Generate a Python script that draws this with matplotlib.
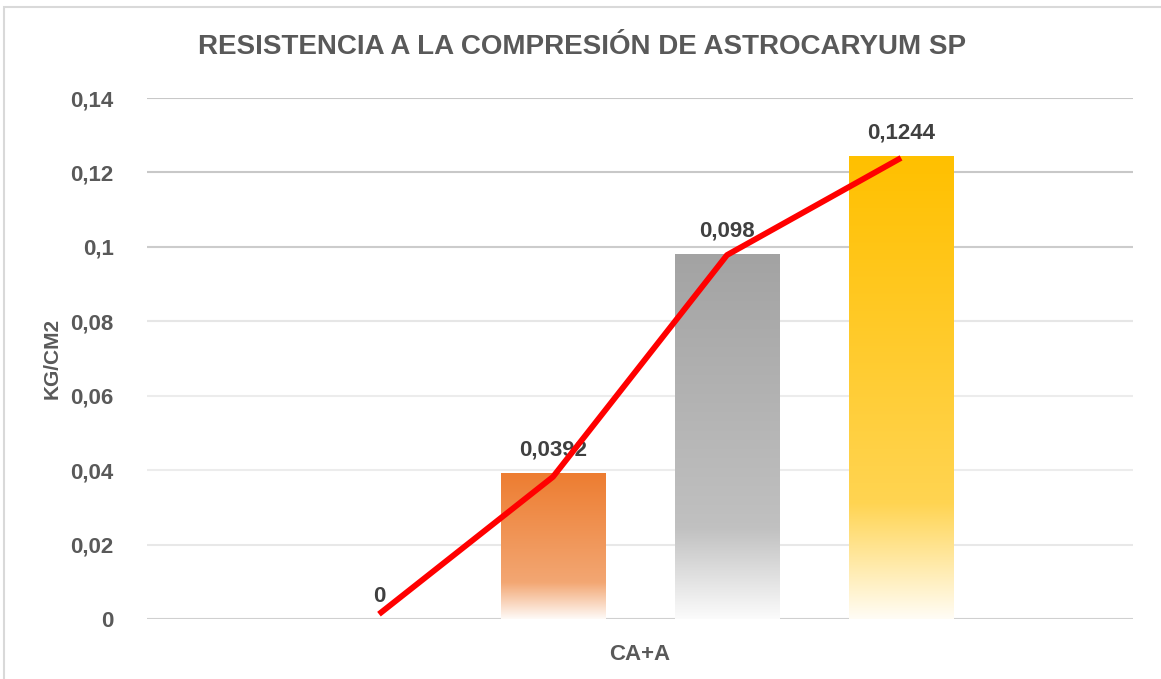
import numpy as np
import matplotlib.pyplot as plt
from matplotlib.ticker import FuncFormatter
from matplotlib.patches import Rectangle

# data
category = 'CA+A'
values = [0, 0.0392, 0.098, 0.1244]
value_labels = ['0', '0,0392', '0,098', '0,1244']
line_values = [0.0013, 0.0382, 0.0978, 0.1239]
bar_colors = ['#FFFFFF', '#ED7D31', '#A3A3A3', '#FFC000']
y_ticks = [0, 0.02, 0.04, 0.06, 0.08, 0.1, 0.12, 0.14]

plt.rcParams['font.family'] = ['Liberation Sans', 'DejaVu Sans']
plt.rcParams['font.weight'] = 'bold'

fig = plt.figure(figsize=(11.61, 6.79), dpi=100)
W, H = 1161, 679
ax = fig.add_axes([147 / W, 1 - 619 / H, (1133 - 147) / W, (619 - 98) / H])

# outer chart border
fig.patches.append(Rectangle((4 / W, -0.05), 1.1, 1 - 7 / H + 0.05, transform=fig.transFigure,
                             fill=False, edgecolor='#d9d9d9', linewidth=1.5))


def gradient_bar(ax, x, h, width, color):
    if h <= 0:
        return
    rgb = np.array(plt.matplotlib.colors.to_rgb(color))
    t = np.linspace(0, 1, 256)[:, None]
    white = np.interp(t, [0, 0.75, 1.0], [0.0, 0.32, 0.96])
    img = rgb[None, :] * (1 - white) + white
    img = img[:, None, :]
    ax.imshow(img, extent=[x - width / 2, x + width / 2, 0, h], aspect='auto',
              origin='upper', zorder=2, interpolation='bilinear')


xs = np.arange(len(values))
bar_w = 0.6
for x, v, c in zip(xs, values, bar_colors):
    gradient_bar(ax, x, v, bar_w, c)

ax.plot(xs, line_values, color='#FF0000', linewidth=4.2, zorder=4, solid_capstyle='butt')

for x, v, lab in zip(xs, values, value_labels):
    ax.annotate(lab, (x, v), xytext=(0, 9), textcoords='offset points', ha='center', va='bottom',
                fontsize=16, fontweight='bold', color='#404040', zorder=3)

ax.set_xlim(-1.333, 4.333)
ax.set_ylim(0, 0.14)
ax.set_yticks(y_ticks)
ax.yaxis.set_major_formatter(FuncFormatter(lambda v, p: f'{v:g}'.replace('.', ',')))
ax.set_xticks([1.5])
ax.set_xticklabels([category])
ax.tick_params(axis='both', length=0, labelsize=16, labelcolor='#595959')
ax.tick_params(axis='y', pad=24)
ax.tick_params(axis='x', pad=18)

grid_colors = ['#d0d0d0', '#e8e8e8', '#ececec', '#ececec', '#e6e6e6', '#cccccc', '#c8c8c8', '#c8c8c8']
for yv, gc in zip(y_ticks, grid_colors):
    ax.axhline(yv, color=gc, linewidth=1.5, zorder=1)

for s in ax.spines.values():
    s.set_visible(False)

ax.set_ylabel('KG/CM2', fontsize=15, fontweight='bold', color='#595959', labelpad=6)
fig.text(582 / W, 1 - 47 / H, 'RESISTENCIA A LA COMPRESIÓN DE ASTROCARYUM SP', ha='center', va='center',
         fontsize=20, fontweight='bold', color='#595959')

fig.savefig('out.png', dpi=100)
